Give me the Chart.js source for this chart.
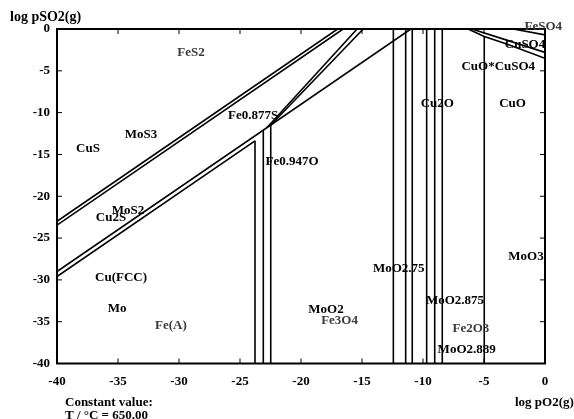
<!DOCTYPE html>
<html>
<head>
<meta charset="utf-8">
<script src="https://cdn.jsdelivr.net/npm/chart.js@4.4.1/dist/chart.umd.min.js"></script>
<style>
  html, body { margin: 0; padding: 0; background: #fff; }
  canvas { display: block; }
</style>
</head>
<body>
<canvas id="phaseChart" width="574" height="419"></canvas>
<script>
// axis ranges (log pO2 on x, log pSO2 on y)
const xRange = [-40, 0];
const yRange = [-40, 0];
const tickStep = 5;

// slope-1 sulfide boundaries, [x, y] end points
const sulfideUpperA = [[-40, -23.0], [-17.0, 0]];
const sulfideUpperB = [[-40, -23.45], [-16.55, 0]];
const sulfideLowerA = [[-40, -29.0], [-11.0, 0]];
const sulfideLowerB = [[-40, -29.6], [-23.77, -13.37]];

// steeper Fe0.877S boundaries
const steepA = [[-22.8, -11.8], [-15.4, 0]];
const steepB = [[-22.45, -11.45], [-14.9, 0]];

// vertical oxide boundaries: x position and upper end
const verticalX = [-23.77, -23.09, -22.48, -12.43, -11.42, -10.88, -9.70, -9.04, -8.42, -4.98];
const verticalTop = [-13.37, -12.09, -11.48, 0, 0, 0, 0, 0, 0, -0.9];

// sulfate corner
const sulfateUpper = [[-6.0, 0], [-3.2, -1.3], [0, -2.8]];
const sulfateLower = [[-6.3, 0], [-4.98, -0.9], [-3.2, -1.75], [0, -3.5]];
const feSulfate = [[-2.6, 0], [0, -0.7]];

// region labels
const labelText = ['FeS2', 'MoS3', 'CuS', 'Fe0.877S', 'Fe0.947O', 'MoS2', 'Cu2S', 'Cu(FCC)', 'Mo', 'Fe(A)',
  'MoO2.75', 'MoO3', 'MoO2.875', 'MoO2', 'Fe3O4', 'Fe2O3', 'MoO2.889', 'Cu2O', 'CuO', 'CuO*CuSO4', 'CuSO4', 'FeSO4'];
const labelX = [-29.02, -33.11, -37.46, -23.93, -20.74, -34.18, -35.57, -34.75, -35.08, -30.66,
  -11.99, -1.56, -7.38, -17.95, -16.84, -6.07, -6.42, -8.83, -2.66, -3.83, -1.64, -0.14];
const labelY = [-2.87, -12.68, -14.35, -10.40, -15.9, -21.76, -22.6, -29.72, -33.48, -35.52,
  -28.66, -27.23, -32.47, -33.6, -34.92, -35.87, -38.39, -8.89, -8.97, -4.51, -1.83, 0.28];
const greyLabels = ['FeS2', 'Fe(A)', 'Fe3O4', 'Fe2O3', 'FeSO4'];

const serif = '"Liberation Serif", "DejaVu Serif", serif';

function toPoints(arr) {
    return arr.map(p => ({ x: p[0], y: p[1] }));
}

function lineSet(arr) {
    return {
        data: toPoints(arr),
        showLine: true,
        borderColor: '#000',
        borderWidth: 1.6,
        pointRadius: 0,
        fill: false
    };
}

const datasets = [
    lineSet(sulfideUpperA), lineSet(sulfideUpperB),
    lineSet(sulfideLowerA), lineSet(sulfideLowerB),
    lineSet(steepA), lineSet(steepB),
    lineSet(sulfateUpper), lineSet(sulfateLower), lineSet(feSulfate)
];
verticalX.forEach((x, i) => {
    datasets.push(lineSet([[x, verticalTop[i]], [x, yRange[0]]]));
});

// frame, inside ticks and all the text
const decorations = {
    id: 'decorations',
    afterDraw(chart) {
        const ctx = chart.ctx;
        const area = chart.chartArea;
        const xs = chart.scales.x;
        const ys = chart.scales.y;
        ctx.save();

        ctx.strokeStyle = '#000';
        ctx.lineWidth = 2;
        ctx.strokeRect(area.left, area.top, area.right - area.left, area.bottom - area.top);

        ctx.lineWidth = 1;
        for (let v = xRange[0] + tickStep; v < xRange[1]; v += tickStep) {
            const px = xs.getPixelForValue(v);
            ctx.beginPath();
            ctx.moveTo(px, area.bottom); ctx.lineTo(px, area.bottom - 5);
            ctx.moveTo(px, area.top); ctx.lineTo(px, area.top + 5);
            ctx.stroke();
        }
        for (let v = yRange[0] + tickStep; v < yRange[1]; v += tickStep) {
            const py = ys.getPixelForValue(v);
            ctx.beginPath();
            ctx.moveTo(area.left, py); ctx.lineTo(area.left + 5, py);
            ctx.moveTo(area.right, py); ctx.lineTo(area.right - 5, py);
            ctx.stroke();
        }

        ctx.font = 'bold 13px ' + serif;
        ctx.textAlign = 'center';
        ctx.textBaseline = 'middle';
        labelText.forEach((t, i) => {
            ctx.fillStyle = greyLabels.includes(t) ? '#3a3a3a' : '#000';
            ctx.fillText(t, xs.getPixelForValue(labelX[i]), ys.getPixelForValue(labelY[i]));
        });

        ctx.fillStyle = '#000';
        ctx.textAlign = 'left';
        ctx.font = 'bold 14px ' + serif;
        ctx.fillText('log pSO2(g)', 10, 17);
        ctx.font = 'bold 13px ' + serif;
        ctx.fillText('log pO2(g)', 515, 403);
        ctx.fillText('Constant value:', 65, 403);
        ctx.fillText('T / °C = 650.00', 65, 416);
        ctx.restore();
    }
};

const tickFont = { family: serif, size: 13, weight: 'bold' };

new Chart(document.getElementById('phaseChart'), {
    type: 'scatter',
    data: { datasets },
    options: {
        responsive: false,
        animation: false,
        layout: { padding: { top: 29, right: 29, left: 0, bottom: 0 } },
        plugins: { legend: { display: false }, tooltip: { enabled: false } },
        scales: {
            x: {
                type: 'linear',
                min: xRange[0],
                max: xRange[1],
                ticks: { stepSize: tickStep, color: '#000', font: tickFont, padding: 10, maxRotation: 0 },
                grid: { drawOnChartArea: false, drawTicks: false },
                border: { display: false },
                afterFit(scale) { scale.height = 55.5; }
            },
            y: {
                type: 'linear',
                min: yRange[0],
                max: yRange[1],
                ticks: { stepSize: tickStep, color: '#000', font: tickFont, padding: 7 },
                grid: { drawOnChartArea: false, drawTicks: false },
                border: { display: false },
                afterFit(scale) { scale.width = 57; }
            }
        }
    },
    plugins: [decorations]
});
</script>
</body>
</html>
